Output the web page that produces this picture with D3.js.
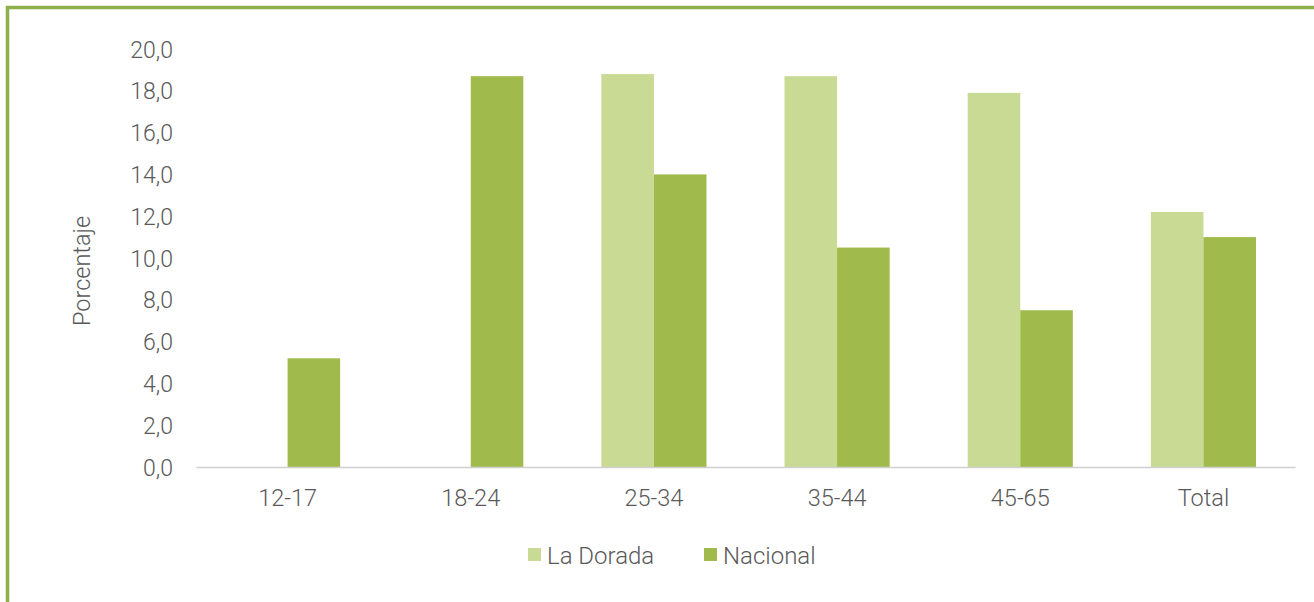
<!DOCTYPE html>
<html>
<head>
<meta charset="utf-8">
<script src="https://cdn.jsdelivr.net/npm/d3@7"></script>
<style>
  body { margin: 0; background: #fff; }
  svg text { font-family: Roboto, 'Open Sans', sans-serif; font-weight: 300; fill: #595959; }
</style>
</head>
<body>
<svg id="chart" width="1314" height="602"></svg>
<script>
const categories = ['12-17', '18-24', '25-34', '35-44', '45-65', 'Total']
const seriesNames = ['La Dorada', 'Nacional']
const laDorada = [null, null, 18.8, 18.7, 17.9, 12.2]
const nacional = [5.2, 18.7, 14.0, 10.5, 7.5, 11.0]
const yTicks = [0, 2, 4, 6, 8, 10, 12, 14, 16, 18, 20]
const colors = ['#c9da95', '#a0ba4b']

const svg = d3.select('#chart')

// green frame
svg.append('path')
  .attr('d', 'M7.5,602 V7.5 H1314')
  .attr('fill', 'none')
  .attr('stroke', '#8db04a')
  .attr('stroke-width', 3.5)

const margin = { left: 196, right: 19, top: 49, bottom: 135 }
const w = 1314 - margin.left - margin.right
const h = 602 - margin.top - margin.bottom

const g = svg.append('g').attr('transform', `translate(${margin.left},${margin.top})`)

const x0 = d3.scaleBand().domain(categories).range([0, w]).paddingInner(0.426).paddingOuter(0.213)
const x1 = d3.scaleBand().domain(seriesNames).range([0, x0.bandwidth()])
const y = d3.scaleLinear().domain([0, 20]).range([h, 0])

// y axis labels
const yAxis = g.append('g').call(
  d3.axisLeft(y).tickValues(yTicks).tickSize(0).tickPadding(23)
    .tickFormat((d) => d.toFixed(1).replace('.', ','))
)
yAxis.select('.domain').remove()
yAxis.selectAll('text').style('font-size', '23px').attr('dy', '0.35em')

const rows = categories.map((c, i) => ({ cat: c, vals: [laDorada[i], nacional[i]] }))

g.selectAll('.grp')
  .data(rows)
  .enter()
  .append('g')
  .attr('transform', (d) => `translate(${x0(d.cat)},0)`)
  .selectAll('rect')
  .data((d) => d.vals.map((v, j) => ({ name: seriesNames[j], v: v, j: j })).filter((e) => e.v != null))
  .enter()
  .append('rect')
  .attr('x', (d) => x1(d.name))
  .attr('width', x1.bandwidth())
  .attr('y', (d) => y(d.v))
  .attr('height', (d) => y(0) - y(d.v))
  .attr('fill', (d) => colors[d.j])

// x axis
const xAxis = g.append('g').attr('transform', `translate(0,${h})`)
  .call(d3.axisBottom(x0).tickSize(0).tickPadding(22))
xAxis.select('.domain').attr('stroke', '#d0d0d0').attr('stroke-width', 1.5)
xAxis.selectAll('text').style('font-size', '23.5px')

// y title
svg.append('text')
  .attr('transform', 'translate(90,271) rotate(-90)')
  .attr('text-anchor', 'middle')
  .style('font-size', '23.5px')
  .text('Porcentaje')

// legend
const legendX = [528, 704]
const legend = svg.selectAll('.leg')
  .data(seriesNames)
  .enter()
  .append('g')
  .attr('transform', (d, i) => `translate(${legendX[i]},548)`)
legend.append('rect').attr('width', 13).attr('height', 13).attr('fill', (d, i) => colors[i])
legend.append('text').attr('x', 19).attr('y', 7).attr('dy', '0.36em')
  .style('font-size', '24px').text((d) => d)
</script>
</body>
</html>
